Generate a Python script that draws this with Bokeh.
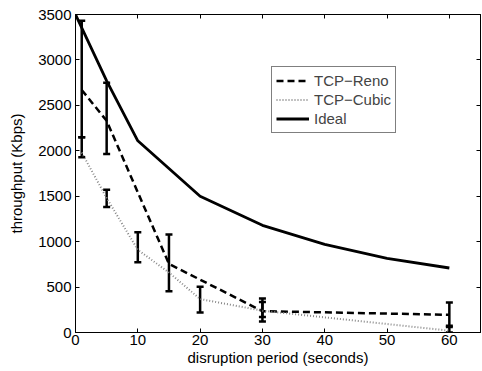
from bokeh.plotting import figure
from bokeh.models import (ColumnDataSource, Whisker, TeeHead, LinearAxis, FixedTicker,
                          Range1d, Legend, LegendItem, CustomLabelingPolicy)
from bokeh.embed import file_html
from bokeh.resources import INLINE

# ---- data ----
ideal_x = [0, 5, 10, 20, 30, 40, 50, 60]
ideal_y = [3500, 2770, 2110, 1500, 1180, 970, 815, 710]

reno_x = [1, 5, 15, 30, 60]
reno_y = [2670, 2330, 755, 235, 195]
reno_lo = [2150, 1965, 453, 170, 60]
reno_hi = [3430, 2750, 1078, 375, 330]

cubic_x = [1, 5, 10, 15, 20, 30, 60]
cubic_y = [1980, 1480, 910, 660, 368, 240, 20]
cubic_bar_x = [1, 5, 10, 20, 30, 60]
cubic_lo = [1930, 1380, 773, 221, 120, 0]
cubic_hi = [2150, 1572, 1104, 504, 335, 75]

x_ticks = [0, 10, 20, 30, 40, 50, 60]
y_ticks = [0, 500, 1000, 1500, 2000, 2500, 3000, 3500]

FONT = "Liberation Sans"
FS = "15px"

p = figure(width=482, height=371, output_backend="svg", toolbar_location=None,
           x_range=Range1d(0, 65), y_range=Range1d(0, 3500),
           min_border_left=75, min_border_right=2, min_border_top=14, min_border_bottom=39,
           x_axis_label="disruption period (seconds)", y_axis_label="throughput (Kbps)")
p.grid.visible = False
p.outline_line_color = "black"
p.outline_line_width = 1
p.background_fill_color = "white"
p.border_fill_color = "white"

no_labels = CustomLabelingPolicy(code="""
    for (const i of Array.from(indices)) indices.unset(i)
    return indices
""")

def style_axis(ax, ticks, labels=True):
    ax.ticker = FixedTicker(ticks=ticks)
    ax.major_tick_in = 4
    ax.major_tick_out = 0
    ax.minor_tick_line_color = None
    ax.axis_line_color = "black"
    ax.major_tick_line_color = "black"
    ax.major_label_text_font = FONT
    ax.major_label_text_font_size = FS
    ax.major_label_text_color = "black"
    ax.axis_label_text_font = FONT
    ax.axis_label_text_font_size = FS
    ax.axis_label_text_font_style = "normal"
    ax.axis_label_text_color = "black"
    if not labels:
        ax.major_label_policy = no_labels
        ax.major_label_text_font_size = "0px"
        ax.major_label_standoff = 0

style_axis(p.xaxis[0], x_ticks)
style_axis(p.yaxis[0], y_ticks)
p.xaxis[0].major_label_standoff = 2
p.xaxis[0].axis_label_standoff = 1
p.yaxis[0].major_label_standoff = 4
p.yaxis[0].axis_label_standoff = 10

top = LinearAxis()
style_axis(top, x_ticks, labels=False)
p.add_layout(top, "above")
right = LinearAxis()
style_axis(right, y_ticks, labels=False)
p.add_layout(right, "right")

r_reno = p.line(reno_x, reno_y, line_color="black", line_width=2.5, line_dash="7 4")
r_cubic = p.line(cubic_x, cubic_y, line_color="#888888", line_width=2, line_dash="1 2")
r_ideal = p.line(ideal_x, ideal_y, line_color="black", line_width=2.8)

src_r = ColumnDataSource(dict(x=reno_x, lo=reno_lo, hi=reno_hi))
src_c = ColumnDataSource(dict(x=cubic_bar_x, lo=cubic_lo, hi=cubic_hi))
for src in (src_r, src_c):
    w = Whisker(source=src, base="x", lower="lo", upper="hi",
                line_color="black", line_width=2.5,
                upper_head=TeeHead(size=7, line_width=2.5, line_color="black"),
                lower_head=TeeHead(size=7, line_width=2.5, line_color="black"))
    p.add_layout(w)

legend = Legend(items=[LegendItem(label="TCP\u2212Reno", renderers=[r_reno]),
                       LegendItem(label="TCP\u2212Cubic", renderers=[r_cubic]),
                       LegendItem(label="Ideal", renderers=[r_ideal])],
                location=(196, 199), orientation="vertical",
                border_line_color="black", border_line_width=1,
                background_fill_color="white", background_fill_alpha=1,
                label_text_font=FONT, label_text_font_size=FS,
                glyph_width=33, glyph_height=19, label_height=19,
                label_standoff=5, padding=4, spacing=0, margin=0)
p.add_layout(legend, "center")

open("out.html", "w").write(file_html(p, INLINE))
